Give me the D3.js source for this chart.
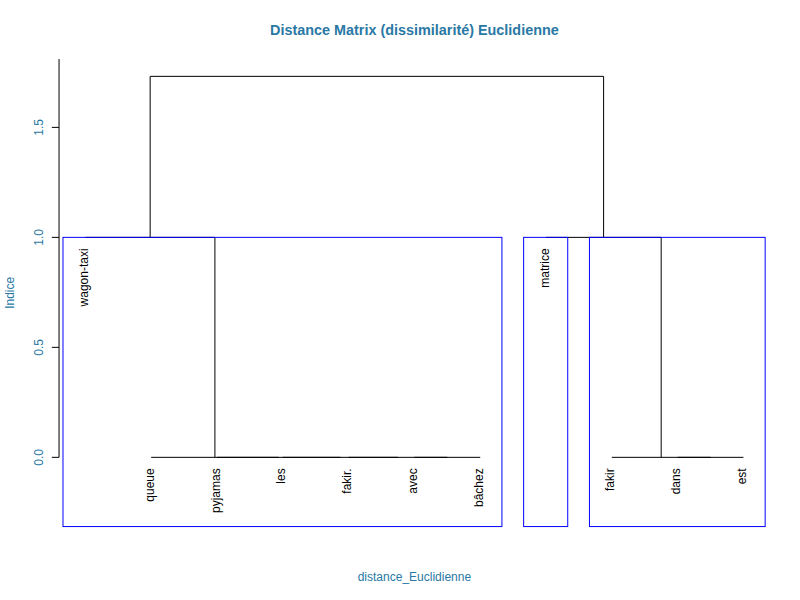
<!DOCTYPE html>
<html>
<head>
<meta charset="utf-8">
<script src="https://cdn.jsdelivr.net/npm/d3@7"></script>
<style>
  html, body { margin: 0; padding: 0; background: #fff; }
  svg { display: block; }
  text { font-family: "Liberation Sans", Arial, Helvetica, sans-serif; }
</style>
</head>
<body>
<div id="chart"></div>
<script>
// ---- Data ----
const leaves = ["wagon-taxi", "queue", "pyjamas", "les", "fakir.", "avec", "bâchez", "matrice", "fakir", "dans", "est"];
// merges: each child is a leaf name (string) or an earlier merge index (number, 0-based)
const mergeLeft  = ["avec",   "fakir.", "les", "pyjamas", "queue", "dans", "fakir", "wagon-taxi", "matrice", 7];
const mergeRight = ["bâchez", 0,        1,     2,         3,       "est",  5,       4,            6,         8];
const mergeHeight = [0, 0, 0, 0, 0, 0, 0, 1.0, 1.0, 1.732];
const clusterSizes = [7, 1, 3];           // rect.hclust(k = 3)
const yTicks = [0, 0.5, 1.0, 1.5];
const yTickLabels = ["0.0", "0.5", "1.0", "1.5"];
const title = "Distance Matrix (dissimilarité) Euclidienne";
const xLabel = "distance_Euclidienne";
const yLabel = "Indice";

// ---- Layout ----
const W = 800, H = 600;
const plot = { left: 59.04, right: 769.76, top: 59.04, bottom: 526.56 };
const mainColor = "#2a78a4";

const svg = d3.select("#chart").append("svg").attr("width", W).attr("height", H);

const n = leaves.length;
const xlim = [1, n];
const xpad = 0.04 * (xlim[1] - xlim[0]);
const x = d3.scaleLinear().domain([xlim[0] - xpad, xlim[1] + xpad]).range([plot.left, plot.right]);
const ylim = [-0.236, d3.max(mergeHeight)];
const ypad = 0.04 * (ylim[1] - ylim[0]);
const y = d3.scaleLinear().domain([ylim[0] - ypad, ylim[1] + ypad]).range([plot.bottom, plot.top]);

// compute node positions
const nodeX = [], nodeH = [];
function childInfo(c, h) {
  if (typeof c === "string") {
    return { x: leaves.indexOf(c) + 1, h: h, leaf: c };
  }
  return { x: nodeX[c], h: nodeH[c] };
}
const segs = [];
const leafH = {};
mergeLeft.forEach((l, i) => {
  const h = mergeHeight[i];
  const a = childInfo(l, h), b = childInfo(mergeRight[i], h);
  if (a.leaf) leafH[a.leaf] = h;
  if (b.leaf) leafH[b.leaf] = h;
  nodeX[i] = (a.x + b.x) / 2;
  nodeH[i] = h;
  segs.push([[a.x, a.h], [a.x, h], [b.x, h], [b.x, b.h]]);
});

const line = d3.line().x(d => x(d[0])).y(d => y(d[1]));
svg.append("g").selectAll("path").data(segs).join("path")
  .attr("d", line).attr("fill", "none").attr("stroke", "#000").attr("stroke-width", 1);

// leaf labels
svg.append("g").selectAll("text").data(leaves).join("text")
  .attr("transform", (d, i) => `translate(${x(i + 1)},${y(leafH[d]) + 11}) rotate(-90)`)
  .attr("text-anchor", "end")
  .attr("dy", "0.22em")
  .attr("font-size", 12)
  .attr("fill", "#000")
  .text(d => d);

// rect.hclust rectangles
const sortedH = mergeHeight.slice().sort((a, b) => b - a);
const k = clusterSizes.length;
const rectTop = (sortedH[k - 2] + sortedH[k - 1]) / 2;
let cum = 0;
const rects = clusterSizes.map(s => { const r = [cum + 0.66, cum + s + 0.33]; cum += s; return r; });
svg.append("g").selectAll("rect").data(rects).join("rect")
  .attr("x", d => x(d[0])).attr("width", d => x(d[1]) - x(d[0]))
  .attr("y", y(rectTop)).attr("height", plot.bottom - y(rectTop))
  .attr("fill", "none").attr("stroke", "#0000ff").attr("stroke-width", 1);

// y axis
const ax = svg.append("g");
ax.append("line").attr("x1", plot.left).attr("x2", plot.left)
  .attr("y1", y(0)).attr("y2", plot.top).attr("stroke", "#000");
ax.selectAll("line.tick").data(yTicks).join("line").attr("class", "tick")
  .attr("x1", plot.left - 7.2).attr("x2", plot.left)
  .attr("y1", d => y(d)).attr("y2", d => y(d)).attr("stroke", "#000");
ax.selectAll("text").data(yTicks).join("text")
  .attr("transform", d => `translate(43,${y(d)}) rotate(-90)`)
  .attr("text-anchor", "middle").attr("font-size", 12).attr("fill", mainColor)
  .text((d, i) => yTickLabels[i]);

// titles
const cx = (plot.left + plot.right) / 2;
svg.append("text").attr("x", cx).attr("y", 34.5).attr("text-anchor", "middle")
  .attr("font-size", 14.4).attr("font-weight", "bold").attr("fill", mainColor).text(title);
svg.append("text").attr("x", cx).attr("y", 581).attr("text-anchor", "middle")
  .attr("font-size", 12).attr("fill", mainColor).text(xLabel);
svg.append("text").attr("transform", `translate(14,${(plot.top + plot.bottom) / 2}) rotate(-90)`)
  .attr("text-anchor", "middle").attr("font-size", 12).attr("fill", mainColor).text(yLabel);
</script>
</body>
</html>
